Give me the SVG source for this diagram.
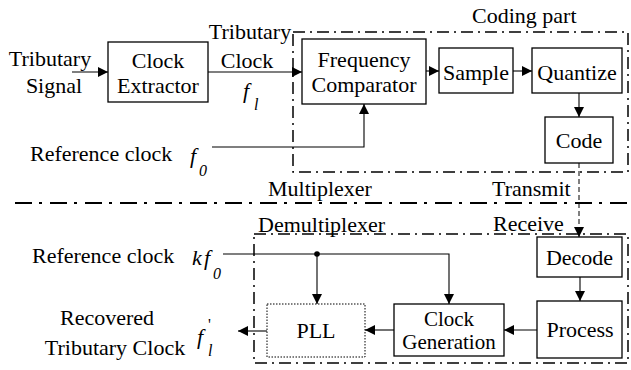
<svg xmlns="http://www.w3.org/2000/svg" width="631" height="370" viewBox="0 0 631 370">
<defs>
<style>
.c{text-anchor:middle}
.i{font-style:italic}
.box{fill:#fff;stroke:#000;stroke-width:1.3}
.dot{fill:#fff;stroke:#000;stroke-width:1;stroke-dasharray:1.5,1.5}
.grp{fill:none;stroke:#000;stroke-width:1.5;stroke-dasharray:12,5,2,5}
.sep{fill:none;stroke:#000;stroke-width:2.2;stroke-dasharray:17,7,3,8}
.ln{fill:none;stroke:#000;stroke-width:1.1}
.dl{fill:none;stroke:#000;stroke-width:1;stroke-dasharray:5,3}
</style>
<marker id="ah" viewBox="0 0 10 10" refX="10" refY="5" markerWidth="10" markerHeight="10" markerUnits="userSpaceOnUse" orient="auto">
<path d="M0,0 L10,5 L0,10 z" fill="#000"/>
</marker>
</defs>
<g id="regions">
<rect class="grp" x="293" y="32" width="335" height="140"/>
<rect class="grp" x="254" y="234" width="374" height="129"/>
<line class="sep" x1="15" y1="203" x2="631" y2="203"/>
<text font-family="Liberation Serif" font-size="22" x="472" y="23">Coding part</text>
<text font-family="Liberation Serif" font-size="22" x="268" y="196">Multiplexer</text>
<text font-family="Liberation Serif" font-size="22" x="492" y="196">Transmit</text>
<text font-family="Liberation Serif" font-size="22" x="258" y="232">Demultiplexer</text>
<text font-family="Liberation Serif" font-size="22" x="493" y="231">Receive</text>
</g>

<g id="connectors">
<line class="ln" x1="72" y1="72" x2="108" y2="72" marker-end="url(#ah)"/>
<line class="ln" x1="208" y1="72" x2="302" y2="72" marker-end="url(#ah)"/>
<polyline class="ln" points="212,147 364,147 364,104" marker-end="url(#ah)"/>
<line class="ln" x1="426" y1="71" x2="439" y2="71" marker-end="url(#ah)"/>
<line class="ln" x1="513" y1="71" x2="532" y2="71" marker-end="url(#ah)"/>
<line class="ln" x1="579" y1="93" x2="579" y2="117" marker-end="url(#ah)"/>
<line class="dl" x1="579" y1="163" x2="579" y2="237" marker-end="url(#ah)"/>
<line class="ln" x1="580" y1="277" x2="580" y2="301" marker-end="url(#ah)"/>
<line class="ln" x1="537" y1="330" x2="504" y2="330" marker-end="url(#ah)"/>
<line class="ln" x1="394" y1="330" x2="365" y2="330" marker-end="url(#ah)"/>
<line class="ln" x1="267" y1="331" x2="238" y2="331" marker-end="url(#ah)"/>
<polyline class="ln" points="223,254 449,254 449,304" marker-end="url(#ah)"/>
<line class="ln" x1="317" y1="254" x2="317" y2="304" marker-end="url(#ah)"/>
<circle cx="317" cy="254" r="2.8" fill="#000"/>
</g>

<g id="labels">
<text font-family="Liberation Serif" font-size="22" class="c" x="50" y="66">Tributary</text>
<text font-family="Liberation Serif" font-size="22" class="c" x="54" y="93">Signal</text>
<text font-family="Liberation Serif" font-size="22" class="c" x="250" y="39">Tributary</text>
<text font-family="Liberation Serif" font-size="22" class="c" x="247" y="68">Clock</text>
<text font-family="Liberation Serif" font-size="22" class="i" x="243" y="98">f</text>
<text font-family="Liberation Serif" font-size="16" class="i" x="254" y="110">l</text>
<text font-family="Liberation Serif" font-size="22" x="30" y="161">Reference clock</text>
<text font-family="Liberation Serif" font-size="22" class="i" x="190" y="163">f</text>
<text font-family="Liberation Serif" font-size="16" class="i" x="199" y="176">0</text>
<text font-family="Liberation Serif" font-size="22" x="32" y="263">Reference clock</text>
<text font-family="Liberation Serif" font-size="22" class="i" x="192" y="265">k</text>
<text font-family="Liberation Serif" font-size="22" class="i" x="204" y="265">f</text>
<text font-family="Liberation Serif" font-size="16" class="i" x="213" y="279">0</text>
<text font-family="Liberation Serif" font-size="22" class="c" x="107" y="325">Recovered</text>
<text font-family="Liberation Serif" font-size="22" class="c" x="115" y="355">Tributary Clock</text>
<text font-family="Liberation Serif" font-size="22" class="i" x="197" y="344">f</text>
<text font-family="Liberation Serif" font-size="16" x="208" y="330">'</text>
<text font-family="Liberation Serif" font-size="16" class="i" x="208" y="356">l</text>
</g>

<g id="clock-extractor">
<rect class="box" x="108" y="42" width="100" height="60"/>
<text font-family="Liberation Serif" font-size="22" class="c" x="158" y="68">Clock</text>
<text font-family="Liberation Serif" font-size="22" class="c" x="158" y="93">Extractor</text>
</g>
<g id="frequency-comparator">
<rect class="box" x="302" y="39" width="124" height="65"/>
<text font-family="Liberation Serif" font-size="22" class="c" x="364" y="67">Frequency</text>
<text font-family="Liberation Serif" font-size="22" class="c" x="364" y="92">Comparator</text>
</g>
<g id="sample">
<rect class="box" x="439" y="48" width="74" height="45"/>
<text font-family="Liberation Serif" font-size="22" class="c" x="476" y="80">Sample</text>
</g>
<g id="quantize">
<rect class="box" x="532" y="48" width="90" height="45"/>
<text font-family="Liberation Serif" font-size="22" class="c" x="577" y="80">Quantize</text>
</g>
<g id="code">
<rect class="box" x="545" y="117" width="68" height="46"/>
<text font-family="Liberation Serif" font-size="22" class="c" x="579" y="148">Code</text>
</g>
<g id="decode">
<rect class="box" x="537" y="237" width="85" height="40"/>
<text font-family="Liberation Serif" font-size="22" class="c" x="579.5" y="265">Decode</text>
</g>
<g id="process">
<rect class="box" x="537" y="301" width="85" height="57"/>
<text font-family="Liberation Serif" font-size="22" class="c" x="580" y="337">Process</text>
</g>
<g id="clock-generation">
<rect class="box" x="394" y="304" width="110" height="52"/>
<text font-family="Liberation Serif" font-size="21" class="c" x="449" y="326">Clock</text>
<text font-family="Liberation Serif" font-size="21" class="c" x="449" y="349">Generation</text>
</g>
<g id="pll">
<rect class="dot" x="267" y="304" width="98" height="53"/>
<text font-family="Liberation Serif" font-size="22" class="c" x="316" y="338">PLL</text>
</g>
</svg>
